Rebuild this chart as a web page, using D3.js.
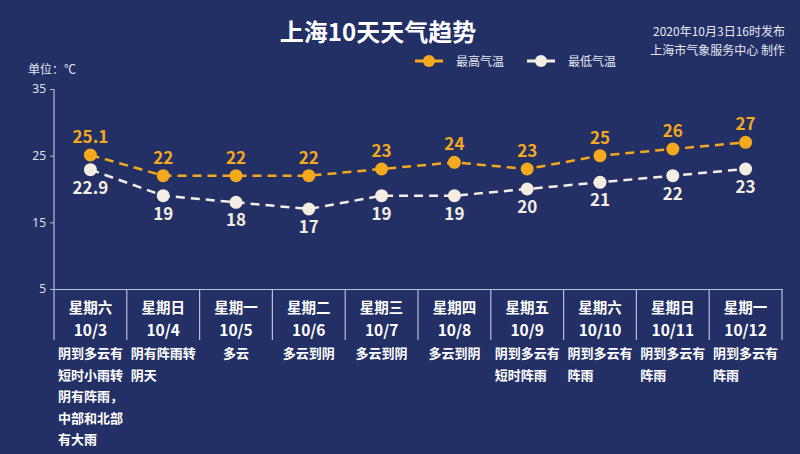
<!DOCTYPE html>
<html><head><meta charset="utf-8">
<script src="https://cdn.jsdelivr.net/npm/d3@7"></script>
<style>
html,body{margin:0;padding:0;background:#233066;}
svg{display:block;font-family:"Noto Sans CJK SC","Noto Sans",sans-serif;}
</style></head>
<body>
<svg id="chart" width="800" height="454"></svg>
<script>
const weekdays = ["星期六","星期日","星期一","星期二","星期三","星期四","星期五","星期六","星期日","星期一"];
const dates = ["10/3","10/4","10/5","10/6","10/7","10/8","10/9","10/10","10/11","10/12"];
const weather = ["阴到多云有短时小雨转阴有阵雨，中部和北部有大雨","阴有阵雨转阴天","多云","多云到阴","多云到阴","多云到阴","阴到多云有短时阵雨","阴到多云有阵雨","阴到多云有阵雨","阴到多云有阵雨"];
const highTemps = [25.1,22,22,22,23,24,23,25,26,27];
const lowTemps = [22.9,19,18,17,19,19,20,21,22,23];
const yTicks = [5,15,25,35];
const seriesNames = ["最高气温","最低气温"];

(function(){
const orange = "#f5a91d", cream = "#f4eee2", axisCol = "#b9bfd3", bg = "#233066";
const svg = d3.select("#chart");
svg.append("rect").attr("width",800).attr("height",454).attr("fill",bg);

const pLeft = 54, pRight = 782, pTop = 89, pBottom = 289, divBottom = 340;
const x = d3.scaleBand().domain(dates).range([pLeft,pRight]).padding(0);
const y = d3.scaleLinear().domain([5,35]).range([pBottom,pTop]);
const cx = d => x(d) + x.bandwidth()/2;

// title
svg.append("text").attr("x",378).attr("y",41).attr("text-anchor","middle")
  .attr("fill","#fff").attr("font-size",24).attr("font-weight","bold").text("上海10天天气趋势");
svg.append("text").attr("x",785).attr("y",36).attr("text-anchor","end")
  .attr("fill","#e6e8f0").attr("font-size",12).text("2020年10月3日16时发布");
svg.append("text").attr("x",785).attr("y",55).attr("text-anchor","end")
  .attr("fill","#e6e8f0").attr("font-size",12).text("上海市气象服务中心 制作");
svg.append("text").attr("x",28).attr("y",74)
  .attr("fill","#e6e8f0").attr("font-size",12).text("单位：℃");

// legend
const legendItems = [{name:seriesNames[0],col:orange,x:415},{name:seriesNames[1],col:cream,x:527}];
legendItems.forEach(it=>{
  svg.append("line").attr("x1",it.x).attr("x2",it.x+28).attr("y1",61).attr("y2",61)
    .attr("stroke",it.col).attr("stroke-width",3);
  svg.append("circle").attr("cx",it.x+14).attr("cy",61).attr("r",6).attr("fill",it.col);
  svg.append("text").attr("x",it.x+41).attr("y",65.5).attr("fill","#e6e8f0").attr("font-size",12).text(it.name);
});

// y axis
const yAxis = d3.axisLeft(y).tickValues(yTicks).tickSize(4).tickSizeOuter(0).tickPadding(4);
const ga = svg.append("g").attr("transform",`translate(${pLeft},0)`).call(yAxis);
ga.select(".domain").remove();
ga.selectAll("line").attr("stroke",axisCol);
ga.selectAll("text").attr("fill","#dfe2ec").attr("font-size",12).attr("font-family","'Noto Sans',sans-serif");
svg.append("line").attr("x1",pLeft).attr("x2",pLeft).attr("y1",pTop).attr("y2",divBottom).attr("stroke",axisCol).attr("stroke-width",1.2);

// x axis with band dividers
const xAxis = d3.axisBottom(x).tickSize(0).tickFormat("");
const gx = svg.append("g").attr("transform",`translate(0,${pBottom})`).call(xAxis);
gx.select(".domain").attr("stroke",axisCol).attr("stroke-width",1.2);
const dividers = dates.map(d=>x(d)+x.bandwidth());
svg.selectAll("line.div").data(dividers).join("line").attr("class","div")
  .attr("x1",d=>d).attr("x2",d=>d).attr("y1",pBottom).attr("y2",divBottom)
  .attr("stroke",axisCol).attr("stroke-width",1.2);

svg.selectAll("text.wd").data(weekdays).join("text").attr("class","wd")
  .attr("x",(d,i)=>cx(dates[i])).attr("y",313).attr("text-anchor","middle")
  .attr("fill","#fff").attr("font-size",14.5).attr("font-weight","bold").text(d=>d);
svg.selectAll("text.dt").data(dates).join("text").attr("class","dt")
  .attr("x",d=>cx(d)).attr("y",336).attr("text-anchor","middle")
  .attr("fill","#fff").attr("font-size",15.5).attr("font-weight","bold").text(d=>d);

// weather text
const fs = 13, perLine = 5, lh = 21.5;
weather.forEach((w,i)=>{
  const lines = [];
  for(let k=0;k<w.length;k+=perLine) lines.push(w.slice(k,k+perLine));
  const maxLen = d3.max(lines,l=>l.length);
  const x0 = cx(dates[i]) - maxLen*fs/2;
  lines.forEach((l,j)=>{
    svg.append("text").attr("x",x0).attr("y",358+j*lh)
      .attr("fill","#fff").attr("font-size",fs).attr("font-weight","bold").text(l);
  });
});

// lines
const lineGen = d3.line().x((d,i)=>cx(dates[i])).y(d=>y(d));
svg.append("path").datum(highTemps).attr("d",lineGen).attr("fill","none")
  .attr("stroke",orange).attr("stroke-width",2.5).attr("stroke-dasharray","9,6");
svg.append("path").datum(lowTemps).attr("d",lineGen).attr("fill","none")
  .attr("stroke",cream).attr("stroke-width",2.5).attr("stroke-dasharray","9,6");

svg.selectAll("circle.hi").data(highTemps).join("circle").attr("class","hi")
  .attr("cx",(d,i)=>cx(dates[i])).attr("cy",d=>y(d)).attr("r",6.5).attr("fill",orange);
svg.selectAll("circle.lo").data(lowTemps).join("circle").attr("class","lo")
  .attr("cx",(d,i)=>cx(dates[i])).attr("cy",d=>y(d)).attr("r",6.5).attr("fill",cream);

svg.selectAll("text.hiL").data(highTemps).join("text").attr("class","hiL")
  .attr("x",(d,i)=>cx(dates[i])).attr("y",d=>y(d)-12).attr("text-anchor","middle")
  .attr("fill",orange).attr("font-size",17).attr("font-weight","bold").text(d=>d);
svg.selectAll("text.loL").data(lowTemps).join("text").attr("class","loL")
  .attr("x",(d,i)=>cx(dates[i])).attr("y",d=>y(d)+24).attr("text-anchor","middle")
  .attr("fill",cream).attr("font-size",17).attr("font-weight","bold").text(d=>d);
})();
</script>
</body></html>
